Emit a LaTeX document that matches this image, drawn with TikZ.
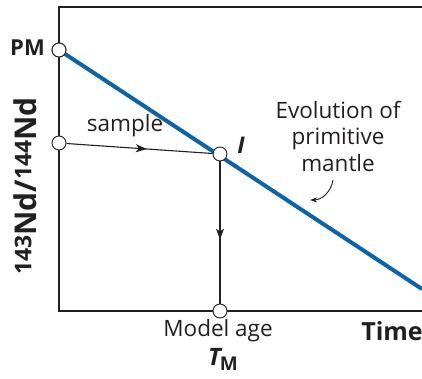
\documentclass[tikz,border=0pt]{standalone}
\usepackage{fontspec}
\setmainfont{Open Sans}
\usetikzlibrary{arrows.meta,decorations.markings}
\definecolor{pmblue}{RGB}{12,100,168}
\definecolor{ink}{RGB}{35,31,32}
\tikzset{
  dot/.style={draw=ink,line width=0.9pt,fill=white,circle,minimum size=14pt,inner sep=0pt},
  midarrow/.style={postaction={decorate},decoration={markings,
      mark=at position #1 with {\arrow{Stealth[length=11pt,width=8pt,inset=3pt]}}}},
  lbl/.style={font=\fontsize{22.5}{26}\selectfont,text=ink,inner sep=0pt},
  blbl/.style={lbl,font=\fontsize{23}{26}\selectfont\bfseries}
}
\begin{document}
\begin{tikzpicture}[x=1pt,y=-1pt]
  \useasboundingbox (0,0) rectangle (422,378);
  % axes
  \draw[ink,line width=1.4pt] (422,7) -- (59,7) -- (59,311) -- (422,311);

  \coordinate (end) at (422,289);
  \node[dot] (pm) at (59,50) {};
  \node[dot] (sample) at (59,143) {};
  \node[dot] (tm) at (220,311) {};

  \draw[pmblue,line width=4pt] (pm.center) -- (end);
  \node[dot] (i) at (220,154) {};
  \node[dot] (pm) at (59,50) {};

  \draw[ink,line width=1.1pt,midarrow=0.55] (sample) -- (i);
  \draw[ink,line width=1.1pt,midarrow=0.55] (i) -- (tm);

  % labels
  \node[blbl,anchor=east,font=\fontsize{22}{26}\selectfont\bfseries] (pmlbl) at (45,48) {PM};
  \node[lbl] (samplelbl) at (125,126) {sample};
  \node[blbl,font=\fontsize{23}{26}\selectfont\bfseries\itshape] (ilbl) at (241,145) {I};
  \node[lbl,align=center,font=\fontsize{22.5}{26.5}\selectfont] (evo) at (338,136) {Evolution of\\primitive\\mantle};
  \coordinate (evotip) at (310,200);
  \draw[ink,line width=0.9pt,-{Stealth[length=7pt,width=5pt,inset=2pt]}] (333,180) to[bend left=40] (evotip);
  \node[lbl] (model) at (218,331) {Model age};
  \node[blbl,font=\fontsize{24}{26}\selectfont\bfseries] (tmlbl) at (223,359) {\itshape T\kern-1pt\raisebox{-5pt}{\upshape\fontsize{19}{19}\selectfont M}};
  \node[blbl,font=\fontsize{25}{28}\selectfont\bfseries] (time) at (392,331) {Time};
  \node[blbl,rotate=90,font=\fontsize{30}{32}\selectfont\bfseries] (ylbl) at (25,186)
    {\raisebox{5pt}{\fontsize{23}{23}\selectfont 143}Nd/\raisebox{5pt}{\fontsize{23}{23}\selectfont 144}Nd};
\end{tikzpicture}
\end{document}
